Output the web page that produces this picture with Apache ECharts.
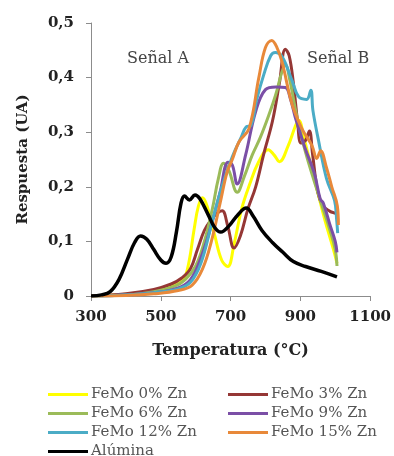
<!DOCTYPE html>
<html>
<head>
<meta charset="utf-8">
<script src="https://cdn.jsdelivr.net/npm/echarts@6/dist/echarts.min.js"></script>
<style>
  html, body { margin: 0; padding: 0; background: #fff; }
  #chart { width: 394px; height: 456px; }
</style>
</head>
<body>
<div id="chart"></div>
<script>
// temperatura (°C), respuesta (UA)
const femo0 = [[300,0],[400,0.003],[480,0.01],[540,0.02],[565,0.03],[580,0.06],[595,0.12],[608,0.165],[620,0.18],[635,0.16],[655,0.11],[675,0.065],[692,0.054],[710,0.095],[732,0.16],[755,0.205],[780,0.245],[808,0.268],[825,0.258],[840,0.246],[865,0.275],[885,0.31],[895,0.322],[912,0.285],[940,0.215],[970,0.14],[995,0.085],[1005,0.06]];
const femo3 = [[300,0],[400,0.004],[480,0.012],[530,0.022],[560,0.033],[585,0.05],[605,0.085],[625,0.12],[645,0.14],[662,0.152],[676,0.156],[692,0.128],[710,0.088],[728,0.11],[750,0.16],[772,0.2],[795,0.26],[820,0.32],[840,0.39],[857,0.452],[868,0.44],[880,0.39],[892,0.32],[902,0.28],[915,0.285],[926,0.302],[935,0.26],[950,0.19],[965,0.165],[985,0.155],[1003,0.15],[1007,0.135]];
const femo6 = [[300,0],[400,0.002],[480,0.008],[540,0.018],[570,0.03],[600,0.055],[625,0.1],[648,0.16],[665,0.215],[680,0.243],[695,0.23],[719,0.19],[740,0.22],[762,0.258],[785,0.29],[810,0.332],[830,0.37],[847,0.41],[857,0.423],[870,0.395],[888,0.335],[910,0.275],[935,0.22],[960,0.17],[985,0.12],[1000,0.085],[1005,0.055]];
const femo9 = [[300,0],[400,0.002],[480,0.006],[550,0.015],[585,0.03],[615,0.07],[645,0.13],[670,0.19],[693,0.245],[705,0.24],[719,0.205],[743,0.258],[772,0.338],[800,0.378],[830,0.383],[857,0.382],[872,0.36],[886,0.326],[914,0.27],[940,0.225],[957,0.178],[966,0.17],[985,0.13],[1000,0.1],[1005,0.08]];
const femo12 = [[300,0],[400,0.002],[480,0.006],[550,0.013],[585,0.025],[615,0.06],[645,0.13],[675,0.2],[705,0.255],[730,0.29],[745,0.31],[758,0.312],[775,0.36],[795,0.405],[815,0.44],[828,0.446],[848,0.438],[876,0.395],[895,0.365],[918,0.36],[930,0.377],[936,0.34],[952,0.285],[975,0.215],[998,0.175],[1004,0.14],[1007,0.115]];
const femo15 = [[300,0],[400,0.001],[480,0.004],[550,0.01],[590,0.02],[620,0.05],[645,0.1],[670,0.17],[690,0.227],[705,0.25],[724,0.282],[753,0.307],[781,0.4],[800,0.455],[818,0.468],[833,0.455],[847,0.43],[876,0.352],[904,0.307],[933,0.276],[947,0.252],[958,0.266],[975,0.235],[990,0.2],[1006,0.165],[1009,0.13]];
const alumina = [[300,0],[330,0.002],[355,0.008],[380,0.03],[405,0.068],[425,0.098],[442,0.11],[460,0.104],[480,0.085],[500,0.066],[515,0.06],[530,0.072],[545,0.118],[558,0.17],[568,0.183],[582,0.176],[598,0.185],[612,0.178],[635,0.15],[655,0.125],[672,0.117],[695,0.128],[720,0.148],[745,0.161],[765,0.146],[790,0.12],[820,0.098],[850,0.08],[880,0.063],[915,0.054],[960,0.045],[1005,0.035]];

const seriesNames = ['FeMo 0% Zn', 'FeMo 3% Zn', 'FeMo 6% Zn', 'FeMo 9% Zn', 'FeMo 12% Zn', 'FeMo 15% Zn', 'Alúmina'];
const seriesData = [femo0, femo3, femo6, femo9, femo12, femo15, alumina];
const colors = ['#ffff00', '#953735', '#9bbb59', '#7b4fa6', '#4bacc6', '#e8893a', '#000000'];
const xTickLabels = { 300: '300', 500: '500', 700: '700', 900: '900', 1100: '1100' };
const yTickLabels = ['0', '0,1', '0,2', '0,3', '0,4', '0,5'];

const serif = 'DejaVu Serif';

const chart = echarts.init(document.getElementById('chart'));

// one item per row: horizontal legend squeezed to a narrow width
const legendBase = {
  orient: 'horizontal',
  top: 387,
  width: 150,
  icon: 'rect',
  itemWidth: 40,
  itemHeight: 3,
  itemGap: 4,
  padding: 0,
  selectedMode: false,
  textStyle: { fontFamily: serif, fontSize: 15, lineHeight: 15, color: '#555', padding: [0, 0, 0, -2] }
};

chart.setOption({
  animation: false,
  backgroundColor: '#fff',
  color: colors,
  grid: { left: 91, right: 22, top: 23, bottom: 160 },
  legend: [
    Object.assign({}, legendBase, { left: 48, data: ['FeMo 0% Zn', 'FeMo 6% Zn', 'FeMo 12% Zn', 'Alúmina'] }),
    Object.assign({}, legendBase, { left: 228, data: ['FeMo 3% Zn', 'FeMo 9% Zn', 'FeMo 15% Zn'] })
  ],
  xAxis: {
    type: 'value',
    min: 300,
    max: 1100,
    interval: 200,
    name: 'Temperatura (°C)',
    nameLocation: 'middle',
    nameGap: 47,
    nameTextStyle: { fontFamily: serif, fontSize: 16, fontWeight: 'bold', color: '#222' },
    axisLine: { lineStyle: { color: '#8c8c8c' } },
    axisTick: { show: true, length: 5, lineStyle: { color: '#8c8c8c' } },
    axisLabel: {
      margin: 14,
      fontFamily: serif,
      fontSize: 15,
      fontWeight: 'bold',
      color: '#222',
      formatter: v => xTickLabels[v] || ''
    },
    splitLine: { show: false }
  },
  yAxis: {
    type: 'value',
    min: 0,
    max: 0.5,
    interval: 0.1,
    name: 'Respuesta (UA)',
    nameLocation: 'middle',
    nameGap: 60,
    nameTextStyle: { fontFamily: serif, fontSize: 15, fontWeight: 'bold', color: '#222' },
    axisLine: { show: true, lineStyle: { color: '#8c8c8c' } },
    axisTick: { show: true, length: 5, lineStyle: { color: '#8c8c8c' } },
    axisLabel: {
      margin: 17,
      fontFamily: serif,
      fontSize: 15,
      fontWeight: 'bold',
      color: '#222',
      formatter: v => yTickLabels[Math.round(v * 10)]
    },
    splitLine: { show: false }
  },
  graphic: [
    { type: 'text', left: 127, top: 51, style: { text: 'Señal A', font: '16px "DejaVu Serif"', fill: '#444' } },
    { type: 'text', left: 307, top: 51, style: { text: 'Señal B', font: '16px "DejaVu Serif"', fill: '#444' } }
  ],
  series: seriesNames.map((name, i) => ({
    name: name,
    type: 'line',
    data: seriesData[i],
    smooth: 0.4,
    showSymbol: false,
    lineStyle: { width: i === 6 ? 3.5 : 3, color: colors[i] }
  }))
});
</script>
</body>
</html>
